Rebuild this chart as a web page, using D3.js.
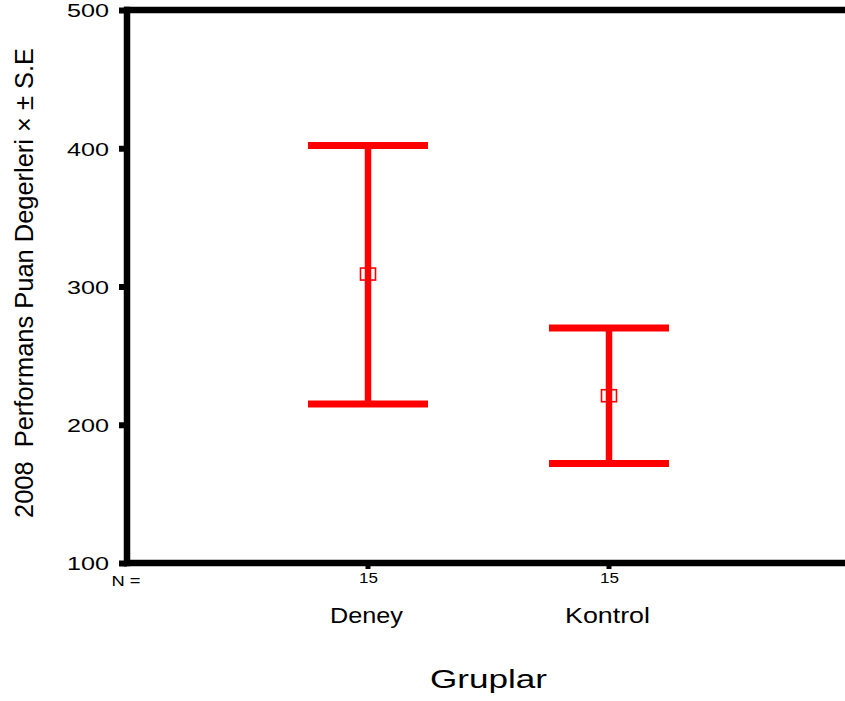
<!DOCTYPE html>
<html>
<head>
<meta charset="utf-8">
<script src="https://cdn.jsdelivr.net/npm/d3@7"></script>
<style>
  body { margin: 0; background: #fff; }
  svg { display: block; font-family: "Liberation Sans", Arial, sans-serif; }
</style>
</head>
<body>
<svg id="chart" width="845" height="701"></svg>
<script>
// data
const groups = ['Deney', 'Kontrol'];
const nCounts = [15, 15];
const means = [309, 221];
const upper = [402, 270];
const lower = [215, 172];
const yTicks = [100, 200, 300, 400, 500];

const width = 845, height = 701;
const axisColor = '#000';
const barColor = '#ff0000';
const axisWidth = 6.5;
const capHalf = 60;

const svg = d3.select('#chart');

const y = d3.scaleLinear().domain([100, 500]).range([563, 10]);
// group index -> x; index -1 is the left axis (N = label)
const x = d3.scaleLinear().domain([0, 1]).range([368, 609]);
const left = x(-1);

// frame: left, top and bottom lines
svg.append('line')
    .attr('x1', left).attr('x2', left)
    .attr('y1', y(500) - axisWidth / 2).attr('y2', y(100) + axisWidth / 2)
    .attr('stroke', axisColor).attr('stroke-width', axisWidth);
[500, 100].forEach(v => {
    svg.append('line')
        .attr('x1', left - 3).attr('x2', width)
        .attr('y1', y(v)).attr('y2', y(v))
        .attr('stroke', axisColor).attr('stroke-width', axisWidth);
});

// y axis ticks
const yAxis = svg.append('g')
    .attr('transform', `translate(${left},0)`)
    .call(d3.axisLeft(y).tickValues(yTicks).tickSize(8).tickPadding(12).tickFormat(d3.format('d')));
yAxis.select('.domain').remove();
yAxis.selectAll('.tick line').attr('stroke', axisColor).attr('stroke-width', 6);
yAxis.selectAll('.tick text')
    .attr('fill', '#000')
    .attr('font-size', 18)
    .attr('font-family', '"Liberation Sans", Arial, sans-serif')
    .attr('x', 109 - left)
    .attr('dy', '0.38em')
    .attr('textLength', 42)
    .attr('lengthAdjust', 'spacingAndGlyphs');

// x ticks below the bottom line
svg.selectAll('.xtick')
    .data(groups)
    .enter().append('line')
    .attr('class', 'xtick')
    .attr('x1', (d, i) => x(i)).attr('x2', (d, i) => x(i))
    .attr('y1', y(100)).attr('y2', y(100) + 6)
    .attr('stroke', axisColor).attr('stroke-width', 5);

// N = row
svg.append('text')
    .attr('x', left - 1).attr('y', 586)
    .attr('text-anchor', 'middle')
    .attr('font-size', 14)
    .attr('textLength', 29).attr('lengthAdjust', 'spacingAndGlyphs')
    .text('N =');

svg.selectAll('.ncount')
    .data(nCounts)
    .enter().append('text')
    .attr('class', 'ncount')
    .attr('x', (d, i) => x(i) + 0.5).attr('y', 582.5)
    .attr('text-anchor', 'middle')
    .attr('font-size', 14.5)
    .attr('textLength', 19).attr('lengthAdjust', 'spacingAndGlyphs')
    .text(d => d);

// group names
const nameWidths = [73, 85];
svg.selectAll('.gname')
    .data(groups)
    .enter().append('text')
    .attr('class', 'gname')
    .attr('x', (d, i) => x(i) - 1.5).attr('y', 623)
    .attr('text-anchor', 'middle')
    .attr('font-size', 22)
    .attr('textLength', (d, i) => nameWidths[i]).attr('lengthAdjust', 'spacingAndGlyphs')
    .text(d => d);

// x axis title
svg.append('text')
    .attr('x', 488.5).attr('y', 688)
    .attr('text-anchor', 'middle')
    .attr('font-size', 25)
    .attr('textLength', 117).attr('lengthAdjust', 'spacingAndGlyphs')
    .text('Gruplar');

// y axis title (condensed in the original)
svg.append('text')
    .attr('transform', 'translate(33,283) rotate(-90)')
    .attr('text-anchor', 'middle')
    .attr('font-size', 26)
    .attr('textLength', 470).attr('lengthAdjust', 'spacingAndGlyphs')
    .style('white-space', 'pre')
    .text('2008  Performans Puan Degerleri \u00d7 \u00b1 S.E');

// error bars
const bars = svg.selectAll('.ebar')
    .data(groups)
    .enter().append('g')
    .attr('class', 'ebar');

bars.append('line')
    .attr('x1', (d, i) => x(i)).attr('x2', (d, i) => x(i))
    .attr('y1', (d, i) => y(upper[i])).attr('y2', (d, i) => y(lower[i]))
    .attr('stroke', barColor).attr('stroke-width', 6.5);

bars.append('line')
    .attr('x1', (d, i) => x(i) - capHalf).attr('x2', (d, i) => x(i) + capHalf)
    .attr('y1', (d, i) => y(upper[i])).attr('y2', (d, i) => y(upper[i]))
    .attr('stroke', barColor).attr('stroke-width', 7);

bars.append('line')
    .attr('x1', (d, i) => x(i) - capHalf).attr('x2', (d, i) => x(i) + capHalf)
    .attr('y1', (d, i) => y(lower[i])).attr('y2', (d, i) => y(lower[i]))
    .attr('stroke', barColor).attr('stroke-width', 7);

bars.append('rect')
    .attr('x', (d, i) => x(i) - 7.5).attr('y', (d, i) => y(means[i]) - 6)
    .attr('width', 15).attr('height', 12)
    .attr('fill', 'none')
    .attr('stroke', barColor).attr('stroke-width', 1.6);
</script>
</body>
</html>
